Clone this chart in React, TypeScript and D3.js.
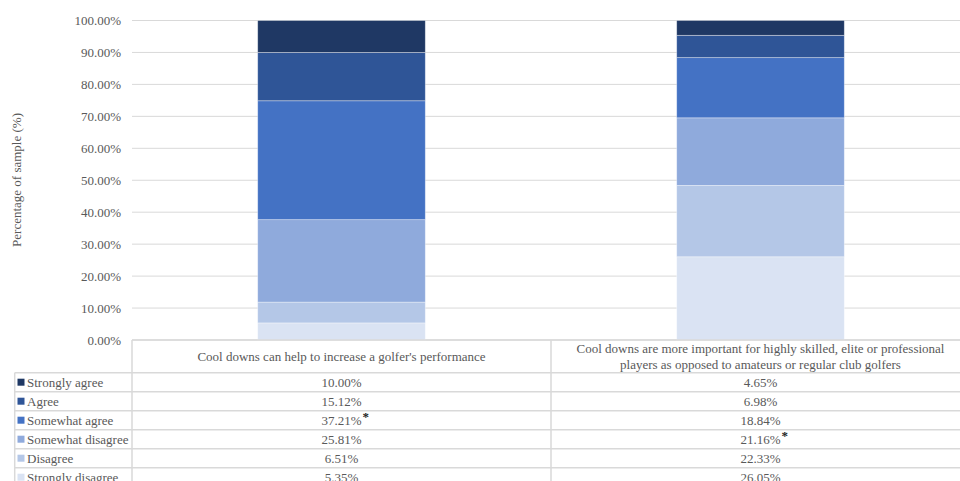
import React from "react";
import * as d3 from "d3";

const categories = [
  "Cool downs can help to increase a golfer's performance",
  "Cool downs are more important for highly skilled, elite or professional players as opposed to amateurs or regular club golfers",
];
const categoryLines = [
  ["Cool downs can help to increase a golfer's performance"],
  [
    "Cool downs are more important for highly skilled, elite or professional",
    "players as opposed to amateurs or regular club golfers",
  ],
];
// top-down order as in the table
const seriesNames = [
  "Strongly agree",
  "Agree",
  "Somewhat agree",
  "Somewhat disagree",
  "Disagree",
  "Strongly disagree",
];
const stronglyAgree = [10.0, 4.65];
const agree = [15.12, 6.98];
const somewhatAgree = [37.21, 18.84];
const somewhatDisagree = [25.81, 21.16];
const disagree = [6.51, 22.33];
const stronglyDisagree = [5.35, 26.05];
const seriesValues = [stronglyAgree, agree, somewhatAgree, somewhatDisagree, disagree, stronglyDisagree];
// asterisks: [seriesIndex, categoryIndex]
const asterisks: [number, number][] = [
  [2, 0],
  [3, 1],
];
const yTicks = [0, 10, 20, 30, 40, 50, 60, 70, 80, 90, 100];

const colors = ["#1f3864", "#2f5597", "#4472c4", "#8faadc", "#b4c7e7", "#dae3f3"];

export default function App() {
  const W = 960;
  const H = 481;
  const plotLeft = 132;
  const plotRight = 970;
  const y = d3.scaleLinear().domain([0, 100]).range([340, 20.5]);
  const x = d3.scaleBand<number>().domain([0, 1]).range([plotLeft, plotRight]).paddingInner(0.6).paddingOuter(0.3);
  const col = d3.scaleBand<number>().domain([0, 1]).range([plotLeft, plotRight]).padding(0);

  const fmt = (v: number) => d3.format(".2f")(v) + "%";
  const textColor = "#595959";
  const gridColor = "#d9d9d9";
  const font = "'Liberation Serif', 'Times New Roman', serif";

  // stack bottom-up: strongly disagree at bottom
  const stackOrder = [5, 4, 3, 2, 1, 0];
  const rects: React.ReactNode[] = [];
  categories.forEach((_, ci) => {
    let acc = 0;
    stackOrder.forEach((si) => {
      const v = seriesValues[si][ci];
      const y0 = y(acc);
      const y1 = y(acc + v);
      acc += v;
      rects.push(
        <rect
          key={`r-${ci}-${si}`}
          x={x(ci)}
          y={y1}
          width={x.bandwidth()}
          height={y0 - y1}
          fill={colors[si]}
          stroke="#ffffff"
          strokeOpacity={0.45}
          strokeWidth={0.8}
        />
      );
    });
  });

  const headerTop = 340;
  const headerBottom = 372.7;
  const rowH = 19;
  const tableLeft = 14.7;
  const rowTop = (i: number) => headerBottom + i * rowH;

  return (
    <svg width={W} height={H} style={{ position: "absolute", left: 0, top: 0, background: "#fff" }} fontFamily={font}>
      {/* gridlines */}
      {yTicks.map((t) => (
        <line key={`g${t}`} x1={plotLeft} x2={W} y1={y(t)} y2={y(t)} stroke={gridColor} strokeWidth={1} />
      ))}
      {yTicks.map((t) => (
        <text key={`t${t}`} x={121} y={y(t)} dy="0.35em" textAnchor="end" fontSize={13} fill={textColor}>
          {fmt(t)}
        </text>
      ))}
      <text
        transform={`translate(21,${180}) rotate(-90)`}
        textAnchor="middle"
        fontSize={13}
        fill={textColor}
      >
        Percentage of sample (%)
      </text>
      {rects}

      {/* table lines */}
      <line x1={plotLeft} x2={W} y1={headerTop} y2={headerTop} stroke={gridColor} strokeWidth={1.5} />
      {seriesNames.map((_, i) => (
        <line key={`h${i}`} x1={tableLeft} x2={W} y1={rowTop(i)} y2={rowTop(i)} stroke={gridColor} strokeWidth={1.5} />
      ))}
      <line x1={tableLeft} x2={W} y1={rowTop(6)} y2={rowTop(6)} stroke={gridColor} strokeWidth={1.5} />
      <line x1={tableLeft} x2={tableLeft} y1={headerBottom} y2={H} stroke={gridColor} strokeWidth={1.5} />
      <line x1={plotLeft} x2={plotLeft} y1={headerTop} y2={H} stroke={gridColor} strokeWidth={1.5} />
      <line x1={col(1)} x2={col(1)} y1={headerTop} y2={H} stroke={gridColor} strokeWidth={1.5} />

      {/* header */}
      {categoryLines.map((lines, ci) => {
        const cx = (col(ci) as number) + col.bandwidth() / 2;
        const cy = (headerTop + headerBottom) / 2;
        const lh = 16;
        return lines.map((l, li) => (
          <text
            key={`c${ci}-${li}`}
            x={cx}
            y={cy + (li - (lines.length - 1) / 2) * lh}
            dy="0.35em"
            textAnchor="middle"
            fontSize={13}
            fill={textColor}
          >
            {l}
          </text>
        ));
      })}

      {/* legend rows */}
      {seriesNames.map((name, si) => {
        const cy = rowTop(si) + rowH / 2;
        return (
          <g key={`lg${si}`}>
            <rect x={17.5} y={cy - 3.5} width={7} height={7} fill={colors[si]} />
            <text x={27} y={cy} dy="0.35em" fontSize={13} fill={textColor}>
              {name}
            </text>
            {categories.map((_, ci) => {
              const cx = (col(ci) as number) + col.bandwidth() / 2;
              return (
                <text key={`v${si}-${ci}`} x={cx} y={cy} dy="0.35em" textAnchor="middle" fontSize={13} fill={textColor}>
                  {fmt(seriesValues[si][ci])}
                </text>
              );
            })}
          </g>
        );
      })}

      {asterisks.map(([si, ci]) => {
        const cx = (col(ci) as number) + col.bandwidth() / 2;
        const cy = rowTop(si) + rowH / 2;
        return (
          <text key={`a${si}-${ci}`} x={cx + 21} y={cy - 4} dy="0.35em" fontSize={13} fill="#222" fontWeight="bold">
            *
          </text>
        );
      })}
    </svg>
  );
}
